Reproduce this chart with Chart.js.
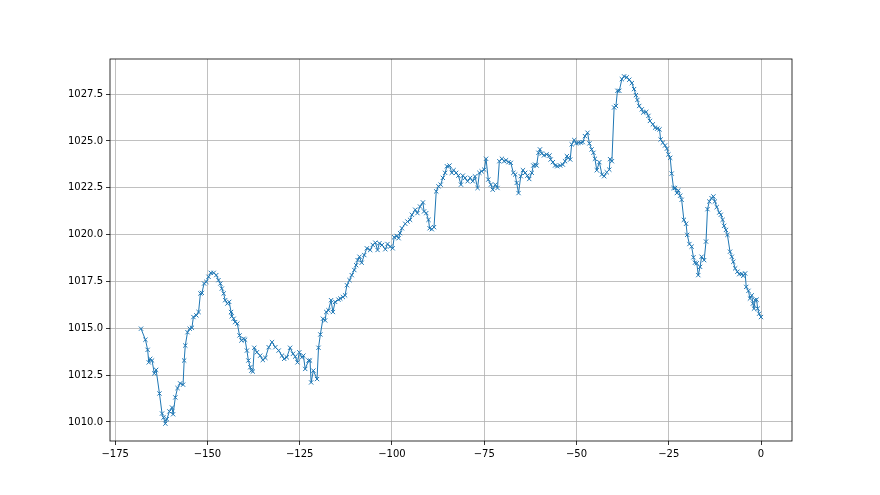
<!DOCTYPE html>
<html>
<head>
<meta charset="utf-8">
<script src="https://cdn.jsdelivr.net/npm/chart.js@4.4.0/dist/chart.umd.min.js"></script>
<style>
  html, body { margin: 0; padding: 0; background: #fff; }
  #wrap { width: 880px; height: 495px; }
</style>
</head>
<body>
<div id="wrap"><canvas id="pressureChart" width="880" height="495"></canvas></div>
<script>
// Hours before now (x) and pressure readings in hPa (y)
const hoursAgo = [
  -168, -166.8, -166.2, -165.9, -165.5, -165.0, -164.4, -163.9, -163.0, -162.3,
  -161.9, -161.4, -161.0, -160.3, -159.6, -159.3, -158.7, -158.1, -157.4, -156.6,
  -156.3, -156.0, -155.4, -154.8, -154.2, -153.8, -153.0, -152.4, -151.9, -151.5,
  -150.9, -150.3, -149.7, -149.1, -148.3, -147.6, -147.0, -146.5, -146.1, -145.6,
  -145.2, -144.6, -144.1, -143.6, -143.4, -142.9, -142.5, -141.9, -141.3, -140.8,
  -140.2, -139.8, -139.3, -138.9, -138.4, -138.1, -137.7, -137.3, -136.6, -135.7,
  -135.0, -134.3, -133.4, -132.5, -131.6, -130.7, -129.8, -129.2, -128.5, -127.6,
  -126.8, -126.2, -125.6, -125.1, -124.4, -124.0, -123.5, -122.6, -122.2, -121.9,
  -121.3, -120.3, -119.9, -119.4, -118.7, -118.1, -117.8, -117.2, -116.5, -116.0,
  -115.4, -114.5, -114.0, -113.3, -112.7, -112.2, -111.5, -110.9, -110.2, -109.7,
  -109.3, -108.8, -108.2, -107.5, -106.8, -105.9, -105.2, -104.5, -103.9, -103.4,
  -102.7, -101.8, -101.2, -100.5, -99.8, -99.4, -98.7, -98.2, -97.8, -97.3,
  -96.4, -95.8, -95.1, -94.6, -93.7, -93.1, -92.4, -91.6, -91.3, -90.7,
  -90.1, -89.8, -89.2, -88.6, -88.0, -87.4, -86.8, -86.2, -85.6, -85.1,
  -84.4, -83.8, -83.3, -82.6, -82.0, -81.3, -80.8, -80.2, -79.5, -78.8,
  -78.1, -77.5, -76.8, -76.3, -75.7, -75.0, -74.5, -73.9, -73.2, -72.7,
  -72.0, -71.4, -70.9, -70.2, -69.6, -69.1, -68.4, -67.8, -67.1, -66.6,
  -66.2, -65.7, -65.1, -64.5, -63.9, -63.3, -62.8, -62.1, -61.7, -61.2,
  -60.8, -60.3, -59.9, -59.4, -58.8, -58.1, -57.3, -57.0, -56.4, -55.8,
  -55.2, -54.4, -53.7, -53.1, -52.6, -52.2, -51.7, -51.3, -50.6, -50.1,
  -49.5, -48.8, -48.3, -47.7, -47.0, -46.5, -45.9, -45.4, -45.0, -44.5,
  -43.8, -43.1, -42.5, -41.8, -41.1, -40.9, -40.4, -39.8, -39.3, -38.9,
  -38.4, -37.7, -37.1, -36.4, -35.7, -35.0, -34.4, -33.9, -33.5, -33.0,
  -32.3, -31.9, -31.1, -30.5, -30.1, -29.3, -28.7, -28.1, -27.5, -27.2,
  -26.6, -26.0, -25.5, -25.1, -24.6, -24.2, -23.7, -23.3, -22.8, -22.4,
  -21.9, -21.5, -20.9, -20.3, -20.0, -19.4, -18.8, -18.3, -17.9, -17.4,
  -17.0, -16.5, -16.1, -15.4, -14.9, -14.5, -14.0, -13.4, -12.9, -12.5,
  -12.0, -11.3, -10.9, -10.4, -10.0, -9.5, -9.1, -8.4, -7.9, -7.5,
  -7.0, -6.4, -5.9, -5.2, -4.8, -4.3, -4.0, -3.4, -3.0, -2.5,
  -2.2, -1.9, -1.6, -1.2, -0.9, -0.5, 0
];
const pressure = [
  1014.98, 1014.39, 1013.85, 1013.18, 1013.37, 1013.28, 1012.59, 1012.78, 1011.52, 1010.45,
  1010.23, 1009.91, 1010.15, 1010.56, 1010.77, 1010.41, 1011.31, 1011.81, 1012.06, 1011.99,
  1013.28, 1014.08, 1014.79, 1014.98, 1015.03, 1015.60, 1015.69, 1015.87, 1016.86, 1016.89,
  1017.39, 1017.48, 1017.75, 1017.96, 1017.96, 1017.84, 1017.57, 1017.39, 1017.12, 1016.86,
  1016.50, 1016.32, 1016.41, 1015.87, 1015.64, 1015.51, 1015.33, 1015.25, 1014.62, 1014.35,
  1014.44, 1014.39, 1013.81, 1013.28, 1012.92, 1012.74, 1012.69, 1013.96, 1013.72, 1013.54,
  1013.31, 1013.42, 1013.99, 1014.26, 1013.99, 1013.81, 1013.54, 1013.37, 1013.45, 1013.96,
  1013.64, 1013.49, 1013.18, 1013.72, 1013.45, 1013.54, 1012.83, 1013.28, 1013.28, 1012.11,
  1012.74, 1012.29, 1013.96, 1014.67, 1015.51, 1015.42, 1015.87, 1015.96, 1016.50, 1015.87,
  1016.41, 1016.53, 1016.59, 1016.67, 1016.76, 1017.30, 1017.57, 1017.84, 1018.11, 1018.37,
  1018.64, 1018.82, 1018.50, 1018.91, 1019.27, 1019.18, 1019.45, 1019.57, 1019.18, 1019.54,
  1019.45, 1019.22, 1019.50, 1019.36, 1019.27, 1019.86, 1019.93, 1019.81, 1020.08, 1020.34,
  1020.58, 1020.70, 1020.79, 1021.06, 1021.33, 1021.15, 1021.50, 1021.72, 1021.24, 1021.15,
  1020.79, 1020.34, 1020.29, 1020.40, 1022.31, 1022.58, 1022.67, 1023.03, 1023.30, 1023.65,
  1023.69, 1023.30, 1023.44, 1023.30, 1023.15, 1022.67, 1023.15, 1023.03, 1022.85, 1023.03,
  1022.85, 1023.11, 1022.49, 1023.30, 1023.38, 1023.47, 1024.05, 1022.94, 1022.67, 1022.40,
  1022.67, 1022.49, 1023.92, 1024.05, 1023.92, 1023.97, 1023.87, 1023.83, 1023.30, 1023.21,
  1022.76, 1022.22, 1023.12, 1023.44, 1023.30, 1023.15, 1022.97, 1023.30, 1023.69, 1023.74,
  1023.69, 1024.37, 1024.55, 1024.33, 1024.23, 1024.28, 1024.23, 1024.01, 1023.87, 1023.69,
  1023.65, 1023.69, 1023.74, 1023.92, 1024.19, 1024.10, 1024.01, 1024.82, 1025.05, 1024.87,
  1024.91, 1024.91, 1024.94, 1025.26, 1025.44, 1024.87, 1024.55, 1024.37, 1024.05, 1023.44,
  1023.87, 1023.21, 1023.12, 1023.33, 1023.47, 1024.03, 1023.92, 1026.79, 1026.87, 1027.68,
  1027.68, 1028.30, 1028.45, 1028.40, 1028.27, 1028.09, 1027.77, 1027.45, 1027.19, 1026.87,
  1026.69, 1026.52, 1026.55, 1026.34, 1026.07, 1025.89, 1025.71, 1025.66, 1025.62, 1025.08,
  1024.91, 1024.76, 1024.59, 1024.28, 1024.10, 1023.26, 1022.49, 1022.49, 1022.22, 1022.36,
  1022.08, 1021.86, 1020.79, 1020.58, 1019.99, 1019.50, 1019.36, 1018.79, 1018.50, 1018.47,
  1017.84, 1018.28, 1018.82, 1018.64, 1019.63, 1021.36, 1021.77, 1021.95, 1022.04, 1021.77,
  1021.47, 1021.18, 1021.06, 1020.79, 1020.47, 1020.25, 1019.99, 1019.09, 1018.82, 1018.55,
  1018.20, 1018.02, 1017.89, 1017.90, 1017.80, 1017.93, 1017.21, 1017.00, 1016.59, 1016.76,
  1016.32, 1016.05, 1016.50, 1016.53, 1016.05, 1015.78, 1015.60
];
const xTicks = [-175, -150, -125, -100, -75, -50, -25, 0];
const yTicks = [1010.0, 1012.5, 1015.0, 1017.5, 1020.0, 1022.5, 1025.0, 1027.5];

// matplotlib-like 5% margins around the data
function paddedRange(values) {
  const lo = Math.min(...values), hi = Math.max(...values);
  const pad = (hi - lo) * 0.05;
  return [lo - pad, hi + pad];
}
const [xMin, xMax] = paddedRange(hoursAgo);
const [yMin, yMax] = paddedRange(pressure);

const points = hoursAgo.map((h, i) => ({ x: h, y: pressure[i] }));

// Draw the full box around the plot (top and right spines too)
const frame = {
  id: 'frame',
  afterDatasetsDraw(chart) {
    const a = chart.chartArea, ctx = chart.ctx;
    ctx.save();
    ctx.strokeStyle = '#000';
    ctx.lineWidth = 0.8;
    ctx.strokeRect(a.left, a.top, a.right - a.left, a.bottom - a.top);
    ctx.restore();
  }
};

const ctx = document.getElementById('pressureChart').getContext('2d');
new Chart(ctx, {
  type: 'scatter',
  data: {
    datasets: [{
      data: points,
      showLine: true,
      borderColor: '#1f77b4',
      borderWidth: 1,
      pointStyle: 'crossRot',
      pointRadius: 3,
      pointBorderWidth: 1,
      pointBorderColor: '#1f77b4',
      pointBackgroundColor: '#1f77b4',
      tension: 0
    }]
  },
  options: {
    responsive: false,
    animation: false,
    layout: { padding: { left: 0, right: 88, top: 59, bottom: 0 } },
    plugins: {
      legend: { display: false },
      tooltip: { enabled: false }
    },
    scales: {
      x: {
        type: 'linear',
        min: xMin,
        max: xMax,
        afterBuildTicks: axis => { axis.ticks = xTicks.map(v => ({ value: v })); },
        afterFit: axis => { axis.height = 54; },
        grid: { color: '#b0b0b0', lineWidth: 0.8, tickColor: '#000', tickLength: 4 },
        border: { display: false },
        ticks: {
          color: '#000',
          padding: 3,
          maxRotation: 0,
          font: { family: 'DejaVu Sans', size: 10 },
          callback: v => String(v).replace('-', '\u2212')
        }
      },
      y: {
        type: 'linear',
        min: yMin,
        max: yMax,
        afterBuildTicks: axis => { axis.ticks = yTicks.map(v => ({ value: v })); },
        afterFit: axis => { axis.width = 110; },
        grid: { color: '#b0b0b0', lineWidth: 0.8, tickColor: '#000', tickLength: 4 },
        border: { display: false },
        ticks: {
          color: '#000',
          padding: 3,
          font: { family: 'DejaVu Sans', size: 10 },
          callback: v => v.toFixed(1)
        }
      }
    }
  },
  plugins: [frame]
});
</script>
</body>
</html>
